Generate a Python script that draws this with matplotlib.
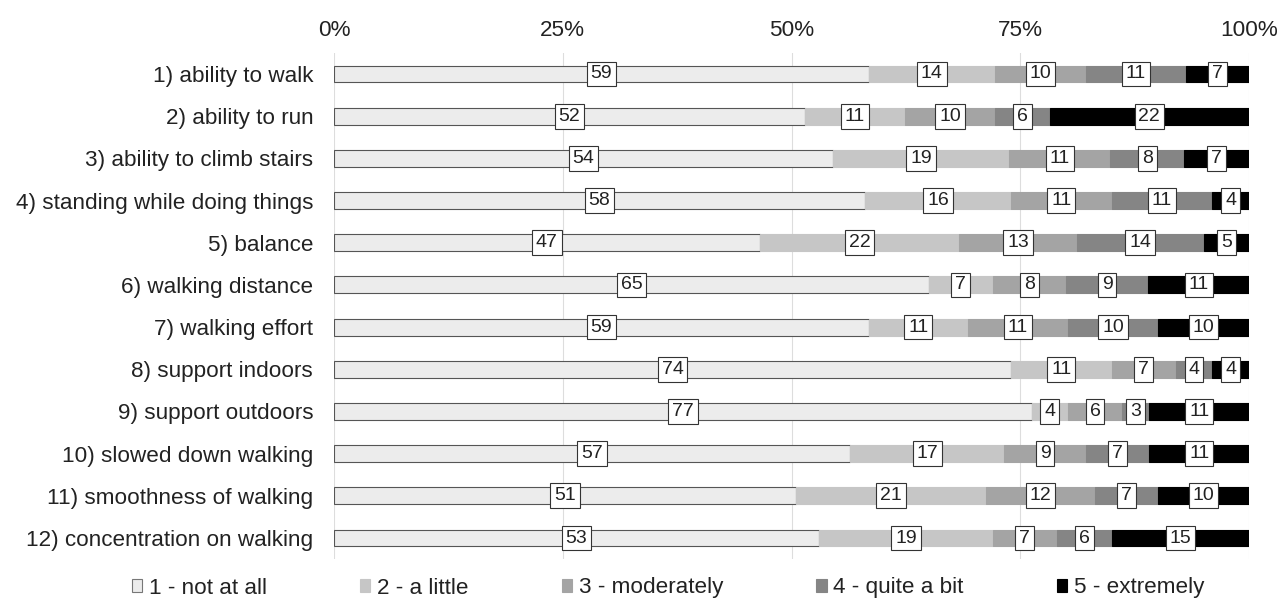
import matplotlib
matplotlib.use("Agg")
import matplotlib.pyplot as plt
import numpy as np

categories = ["1) ability to walk", "2) ability to run", "3) ability to climb stairs",
              "4) standing while doing things", "5) balance", "6) walking distance",
              "7) walking effort", "8) support indoors", "9) support outdoors",
              "10) slowed down walking", "11) smoothness of walking",
              "12) concentration on walking"]
not_at_all = [59, 52, 54, 58, 47, 65, 59, 74, 77, 57, 51, 53]
a_little = [14, 11, 19, 16, 22, 7, 11, 11, 4, 17, 21, 19]
moderately = [10, 10, 11, 11, 13, 8, 11, 7, 6, 9, 12, 7]
quite_a_bit = [11, 6, 8, 11, 14, 9, 10, 4, 3, 7, 7, 6]
extremely = [7, 22, 7, 4, 5, 11, 10, 4, 11, 11, 10, 15]
series_names = ["1 - not at all", "2 - a little", "3 - moderately", "4 - quite a bit", "5 - extremely"]
tick_labels = ["0%", "25%", "50%", "75%", "100%"]

colors = ["#ececec", "#c6c6c6", "#a4a4a4", "#858585", "#000000"]

plt.rcParams['font.family'] = ['Liberation Sans', 'DejaVu Sans']

data = np.array([not_at_all, a_little, moderately, quite_a_bit, extremely], dtype=float)
totals = data.sum(axis=0)
frac = data / totals

fig = plt.figure(figsize=(12.79, 5.98), dpi=100)
top_px, bot_px = 52.9, 559.1
ax = fig.add_axes([334/1279, 1 - bot_px/598, (1249-334)/1279, (bot_px-top_px)/598])

y = np.arange(len(categories))
left = np.zeros(len(categories))
handles = []
for i in range(5):
    h = ax.barh(y, frac[i], left=left, height=0.4, color=colors[i],
                edgecolor="#555555" if i == 0 else colors[i], linewidth=0.8, zorder=2,
                label=series_names[i])
    handles.append(h)
    for j in range(len(categories)):
        ax.text(left[j] + frac[i][j] / 2, y[j], f"{int(data[i][j])}", ha="center", va="center",
                fontsize=14, color="#222222", zorder=4,
                bbox=dict(boxstyle="square,pad=0.2", fc="white", ec="#333333", lw=0.8))
    left += frac[i]

ax.set_ylim(len(categories) - 0.5, -0.5)
ax.set_xlim(0, 1)
ax.set_yticks(y)
ax.set_yticklabels(categories, fontsize=16.2, color="#222222")
ax.set_xticks([0, 0.25, 0.5, 0.75, 1.0])
ax.set_xticklabels(tick_labels, fontsize=16.2, color="#222222")
ax.xaxis.tick_top()
ax.tick_params(axis="y", length=0, pad=15)
ax.tick_params(axis="x", length=0, pad=8.5)
ax.grid(axis="x", color="#dddddd", linewidth=0.8, zorder=0)
ax.set_axisbelow(True)
for s in ax.spines.values():
    s.set_visible(False)

leg = fig.legend(handles=handles, labels=series_names, loc="center",
                 bbox_to_anchor=(668/1279, 1 - 588/598), ncol=5, frameon=False, fontsize=16.2,
                 handlelength=0.45, handleheight=0.45, handletextpad=0.3, columnspacing=4.15,
                 borderpad=0)
for t in leg.get_texts():
    t.set_color("#222222")
leg.legend_handles[0].set_edgecolor("#777777")

fig.savefig("out.png", dpi=100)
